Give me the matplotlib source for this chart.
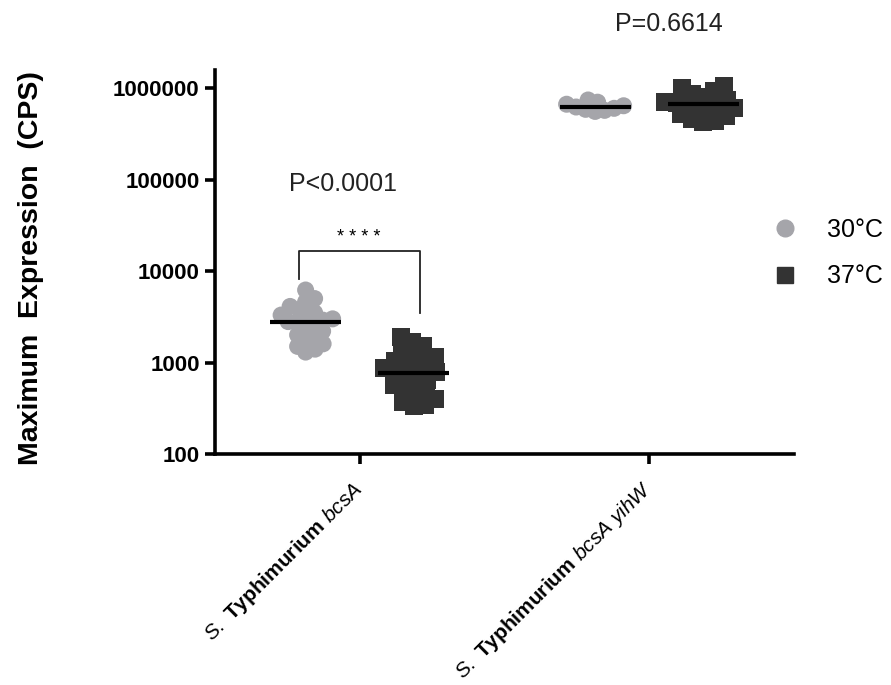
import numpy as np
import matplotlib
matplotlib.use("Agg")
import matplotlib.pyplot as plt
from matplotlib.lines import Line2D

plt.rcParams["font.family"] = ["Liberation Sans", "DejaVu Sans"]
plt.rcParams["mathtext.fontset"] = "custom"
plt.rcParams["mathtext.rm"] = "Liberation Sans"
plt.rcParams["mathtext.it"] = "Liberation Sans:italic"
plt.rcParams["mathtext.bf"] = "Liberation Sans:bold"

# ---- data -------------------------------------------------------------
strains = [r"$\mathit{S.}$ $\mathbf{Typhimurium}$ $\mathit{bcsA}$",
           r"$\mathit{S.}$ $\mathbf{Typhimurium}$ $\mathit{bcsA\ yihW}$"]
temps = ["30°C", "37°C"]

bcsA_30 = [6200, 5000, 4600, 4100, 3800, 3500, 3300, 3150, 3000, 2900, 2800,
           2750, 2600, 2400, 2200, 2000, 1900, 1750, 1600, 1500, 1400, 1300]
bcsA_37 = [1900, 1700, 1500, 1350, 1250, 1150, 1050, 1000, 950, 880, 820, 780,
           760, 700, 650, 600, 560, 520, 480, 440, 400, 370, 345, 330]
bcsA_yihW_30 = [740e3, 700e3, 665e3, 640e3, 620e3, 600e3, 585e3, 570e3, 555e3]
bcsA_yihW_37 = [1.05e6, 1.0e6, 930e3, 860e3, 800e3, 750e3, 710e3, 680e3,
                665e3, 640e3, 600e3, 560e3, 520e3, 490e3, 460e3, 440e3, 425e3]

p_values = ["P<0.0001", "P=0.6614"]
stars = "* * * *"

groups = [[bcsA_30, bcsA_37], [bcsA_yihW_30, bcsA_yihW_37]]
colors = ["#a5a5aa", "#333333"]
markers = ["o", "s"]
marker_area = [150, 165]
swarm_sep = [9.5, 11.5]

# ---- figure -----------------------------------------------------------
W, H = 891, 685
fig = plt.figure(figsize=(W / 100, H / 100), dpi=100)
ax = fig.add_axes([215 / W, 1 - 454 / H, (794 - 215) / W, (454 - 70) / H])
ax.set_yscale("log")
ax.set_ylim(100, 10 ** 6.197)
ax.set_xlim(-0.5, 1.5)

fig.canvas.draw()


def swarm_offsets(values, sep_px):
    """Place points side by side so markers of nearly equal value do not pile up."""
    ys = ax.transData.transform(np.column_stack([np.zeros(len(values)), values]))[:, 1]
    order = np.argsort(ys)
    placed = []
    xs = np.zeros(len(values))
    for i in order:
        y = ys[i]
        best = None
        for step in range(0, 400):
            for cand in ([0.0] if step == 0 else [step * 0.5, -step * 0.5]):
                ok = all((cand - px) ** 2 + (y - py) ** 2 >= sep_px ** 2
                         for px, py in placed)
                if ok:
                    best = cand
                    break
            if best is not None:
                break
        placed.append((best, y))
        xs[i] = best
    return xs


px_per_unit = ax.transData.transform((1, 1))[0] - ax.transData.transform((0, 1))[0]
offset = 0.187
half_len = 0.123

for gi, pair in enumerate(groups):
    for ti, vals in enumerate(pair):
        center = gi + (-offset if ti == 0 else offset)
        dx = swarm_offsets(vals, swarm_sep[ti]) / px_per_unit
        ax.scatter(center + dx, vals, s=marker_area[ti],
                   marker=markers[ti], color=colors[ti], edgecolors="none",
                   zorder=2, clip_on=False)
        med = np.median(vals)
        ax.plot([center - half_len, center + half_len], [med, med],
                color="black", lw=3, zorder=3, solid_capstyle="butt")

# significance bracket and p-values
bx0, bx1 = -0.211, 0.208
ax.plot([bx0, bx0, bx1, bx1], [8100, 16600, 16600, 3460],
        color="#222222", lw=1.3, zorder=1)
ax.text(-0.005, 10 ** 4.37, stars, ha="center", va="center", fontsize=13)
ax.text(-0.059, 10 ** 4.95, p_values[0], ha="center", va="center",
        fontsize=18, color="#222222")
ax.text(1.069, 10 ** 6.70, p_values[1], ha="center", va="center",
        fontsize=18, color="#222222", clip_on=False)

# axes styling
for side in ["top", "right"]:
    ax.spines[side].set_visible(False)
for side in ["left", "bottom"]:
    ax.spines[side].set_linewidth(2.6)
ax.minorticks_off()
ax.set_yticks([100, 1000, 10000, 100000, 1000000])
ax.set_yticklabels(["100", "1000", "10000", "100000", "1000000"],
                   fontsize=16, fontweight="bold")
ax.tick_params(axis="y", length=7, width=2.6, pad=4)
ax.set_xticks([0, 1])
ax.set_xticklabels(strains, rotation=45, ha="right", va="center",
                   rotation_mode="anchor", fontsize=15)
ax.tick_params(axis="x", length=7, width=2.6, pad=16)

ax.set_ylabel("Maximum  Expression  (CPS)", fontsize=20.5, fontweight="bold")
ax.yaxis.set_label_coords(-0.295, 0.484)

handles = [Line2D([], [], marker=markers[i], color=colors[i], linestyle="none",
                  markersize=12) for i in range(2)]
fig.legend(handles, temps, loc="center left", bbox_to_anchor=(762 / W, 1 - 253 / H),
           frameon=False, fontsize=18, handletextpad=1.2, labelspacing=0.9,
           handlelength=1.0, borderaxespad=0)

fig.savefig("out.png", dpi=100)
